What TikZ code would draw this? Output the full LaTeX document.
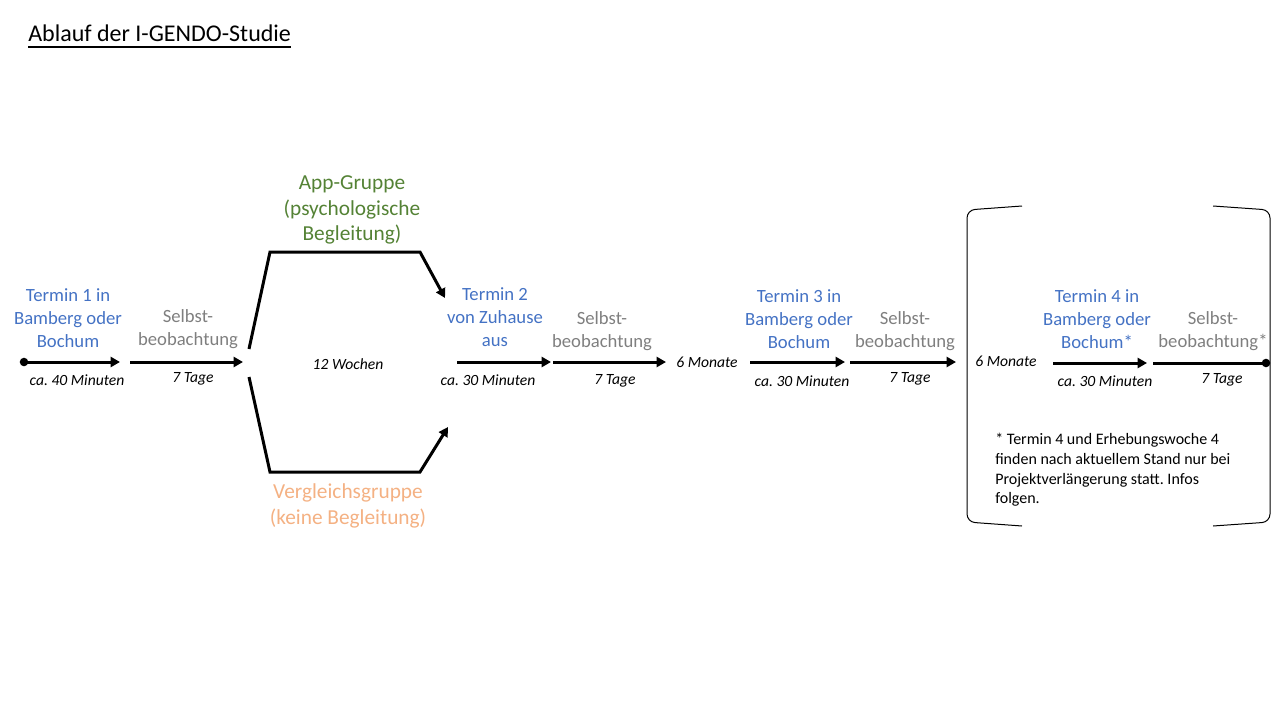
\documentclass[tikz,border=0pt]{standalone}
\usepackage{fontspec}
\setmainfont{Carlito}
\usetikzlibrary{arrows.meta}
\definecolor{tblue}{HTML}{4472C4}
\definecolor{tgray}{HTML}{7F7F7F}
\definecolor{tgreen}{HTML}{548235}
\definecolor{torange}{HTML}{F4B183}
\frenchspacing

\begin{document}
\begin{tikzpicture}
[x=0.75pt,y=-0.75pt,every node/.style={inner sep=0pt,align=center},
termin/.style={text=tblue,font=\fontsize{14}{17}\selectfont},
selbst/.style={text=tgray,font=\fontsize{14}{17}\selectfont},
gruppe/.style={font=\fontsize{16}{19}\selectfont},
dauer/.style={font=\fontsize{11.7}{13}\selectfont\itshape},
arr/.style={line width=2.25pt,-{Triangle[length=7pt,width=7.5pt]}},
klammer/.style={line width=0.75pt,rounded corners=6pt}]
\useasboundingbox (0,0) rectangle (1280,720);
\node[anchor=base west,font=\fontsize{18}{21}\selectfont] (title) at (28,42) {Ablauf der I-GENDO-Studie};
\draw[line width=1.3pt] ([yshift=-3.75pt]title.base west) -- ([yshift=-3.75pt]title.base east);
% Termine und Selbstbeobachtung
\node[termin] (t1) at (68,318) {Termin 1 in\\Bamberg oder\\Bochum};
\node[selbst] (s1) at (188,329) {Selbst-\\beobachtung};
\node[termin] (t2) at (495,317) {Termin 2\\von Zuhause\\aus};
\node[selbst] (s2) at (602,331) {Selbst-\\beobachtung};
\node[termin] (t3) at (799,319) {Termin 3 in\\Bamberg oder\\Bochum};
\node[selbst] (s3) at (905,331) {Selbst-\\beobachtung};
\node[termin] (t4) at (1097,319) {Termin 4 in\\Bamberg oder\\Bochum*};
\node[selbst] (s4) at (1213,331) {Selbst-\\beobachtung*};
% Gruppen
\node[gruppe,text=tgreen] (app) at (352,210) {App-Gruppe\\(psychologische\\Begleitung)};
\node[gruppe,text=torange] (veg) at (348,506) {Vergleichsgruppe\\(keine Begleitung)};
% Dauer
\node[dauer] (d1) at (77,380) {ca. 40 Minuten};
\node[dauer] (d2) at (193,379) {7 Tage};
\node[dauer] (wo) at (348,364) {12 Wochen};
\node[dauer] (d3) at (488,380) {ca. 30 Minuten};
\node[dauer] (d4) at (615,381) {7 Tage};
\node[dauer] (m1) at (707,362) {6 Monate};
\node[dauer] (d5) at (802,381) {ca. 30 Minuten};
\node[dauer] (d6) at (910,379) {7 Tage};
\node[dauer] (m2) at (1006,361) {6 Monate};
\node[dauer] (d7) at (1105,381) {ca. 30 Minuten};
\node[dauer] (d8) at (1222,380) {7 Tage};
\node[anchor=north west,align=left,font=\fontsize{12}{14.8}\selectfont] (fn) at (995,433)
  {* Termin 4 und Erhebungswoche 4\\finden nach aktuellem Stand nur bei\\Projektverlängerung statt. Infos\\folgen.};
% Pfeile
\coordinate (p1) at (24,362);
\coordinate (p2) at (120,362);
\coordinate (p3) at (130,362);
\coordinate (p4) at (243,362);
\coordinate (p5) at (457,362);
\coordinate (p6) at (551,362);
\coordinate (p7) at (553,362);
\coordinate (p8) at (666,362);
\coordinate (p9) at (750,362);
\coordinate (p10) at (845,362);
\coordinate (p11) at (850,362);
\coordinate (p12) at (956,362);
\coordinate (p13) at (1053,363);
\coordinate (p14) at (1147,363);
\coordinate (p15) at (1153,363);
\coordinate (p16) at (1266,363);
\foreach \from/\to in {p1/p2,p3/p4,p5/p6,p7/p8,p9/p10,p11/p12,p13/p14}
\draw[arr] (\from) -- (\to);
\draw[line width=2.25pt] (p15) -- (p16);
\fill (p1) circle (3.2pt);
\fill (p16) circle (3.2pt);
% Verzweigung
\coordinate (b1) at (249,349);
\coordinate (b2) at (270,252);
\coordinate (b3) at (420,252);
\coordinate (b4) at (445,298);
\coordinate (b5) at (249,377);
\coordinate (b6) at (270,472);
\coordinate (b7) at (420,472);
\coordinate (b8) at (448,427);
\draw[arr,line join=miter] (b1) -- (b2) -- (b3) -- (b4);
\draw[arr,line join=miter] (b5) -- (b6) -- (b7) -- (b8);
% Klammern
\draw[klammer] (1022,206) -- (967,210) -- (967,522) -- (1022,526);
\draw[klammer] (1213,206) -- (1270,210) -- (1270,522) -- (1213,526);
\end{tikzpicture}
\end{document}
